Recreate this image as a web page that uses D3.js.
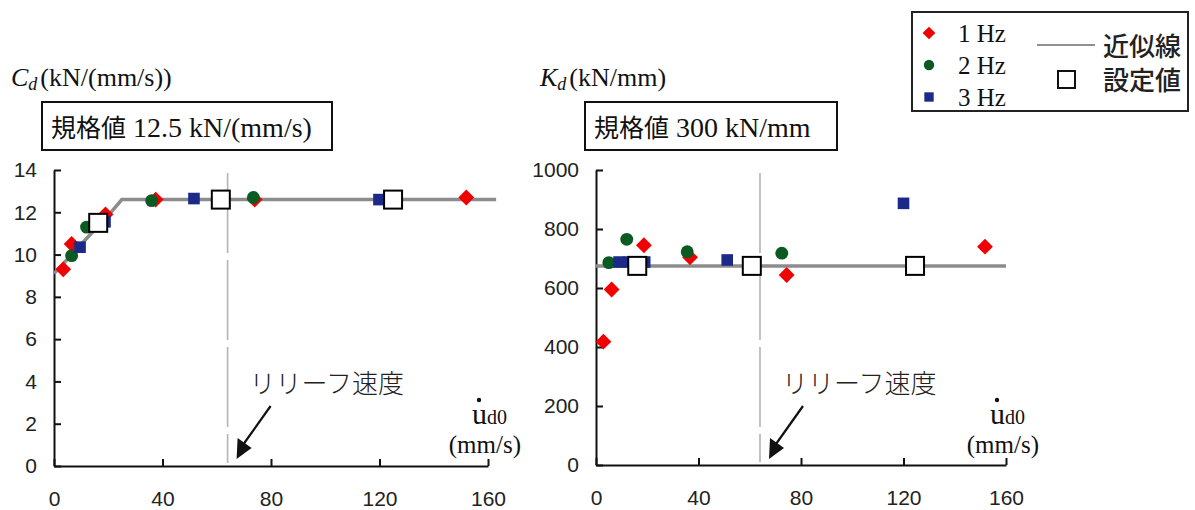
<!DOCTYPE html>
<html>
<head>
<meta charset="utf-8">
<script src="https://cdn.jsdelivr.net/npm/d3@7"></script>
<style>
  body { margin: 0; background: #fff; }
  svg { display: block; }
  .tick text { font-family: "Liberation Sans", Arial, sans-serif; font-size: 21px; fill: #222; }
  .serif { font-family: "Liberation Serif", "Times New Roman", serif; }
  .jp { font-family: "Noto Sans CJK JP", sans-serif; }
</style>
</head>
<body>
<svg id="chart" width="1195" height="510"></svg>
<script>
// ---- data ----
const xTicks = [0, 40, 80, 120, 160];
const reliefSpeed = 64;

// damping coefficient Cd (kN/(mm/s))
const cd1Hz = [[3.4, 9.3], [6.5, 10.5], [19, 11.9], [37.5, 12.6], [74, 12.6], [152, 12.7]];
const cd2Hz = [[6.5, 9.95], [12, 11.3], [36, 12.55], [73.5, 12.7]];
const cd3Hz = [[9.6, 10.35], [18.8, 11.55], [51.6, 12.65], [119.8, 12.6]];
const cdSetting = [[16.3, 11.5], [61.5, 12.6], [125, 12.6]];
const cdFit = [[0, 9.1], [21, 12.0], [25, 12.6], [163, 12.6]];
const cdTicks = [0, 2, 4, 6, 8, 10, 12, 14];

// stiffness Kd (kN/mm)
const kd1Hz = [[2.9, 418], [6.1, 595], [18.7, 745], [36.7, 704], [74.4, 644], [151.8, 740]];
const kd2Hz = [[5, 686], [12, 765], [35.6, 723], [72.5, 718]];
const kd3Hz = [[9, 688], [13, 688], [19, 688], [51.2, 695], [120, 887]];
const kdSetting = [[16.1, 675], [60.8, 675], [124.5, 675]];
const kdFit = [[0, 675], [160, 675]];
const kdTicks = [0, 200, 400, 600, 800, 1000];

const svg = d3.select('#chart');

const seriesStyle = [
  { name: '1 Hz', color: '#f00000', shape: 'diamond' },
  { name: '2 Hz', color: '#0b5a22', shape: 'circle' },
  { name: '3 Hz', color: '#1b2a88', shape: 'square' }
];

function markerPath(shape, k) {
  if (shape === 'diamond') return d3.symbol(d3.symbolSquare, 125 * k)();
  if (shape === 'circle') return d3.symbol(d3.symbolCircle, 130 * k)();
  return d3.symbol(d3.symbolSquare, 135 * k)();
}
function markerRot(shape) { return shape === 'diamond' ? ' rotate(45)' : ''; }

// ------
// draw one panel
function drawPanel(p) {
  let x = d3.scaleLinear().domain([0, 160]).range(p.xRange);
  let y = d3.scaleLinear().domain([0, p.yMax]).range(p.yRange);
  let g = svg.append('g');

  // relief speed line
  g.append('line')
    .attr('x1', x(reliefSpeed)).attr('x2', x(reliefSpeed))
    .attr('y1', y(p.yMax) + 3).attr('y2', y(0) - 3)
    .attr('stroke', '#b4b4b4').attr('stroke-width', 1.6)
    .attr('stroke-dasharray', '80,7');

  // axes
  let yAxis = d3.axisLeft(y).tickValues(p.yTicks).tickFormat(d3.format('d'))
    .tickSizeInner(-7).tickSizeOuter(0).tickPadding(17);
  g.append('g').attr('transform', 'translate(' + p.xRange[0] + ',0)').call(yAxis)
    .call(a => a.selectAll('line, path').attr('stroke', '#111').attr('stroke-width', 2));
  let xAxis = d3.axisBottom(x).tickValues(xTicks).tickSizeInner(-7).tickSizeOuter(0).tickPadding(25);
  g.append('g').attr('transform', 'translate(0,' + p.yRange[0] + ')').call(xAxis)
    .call(a => a.selectAll('line, path').attr('stroke', '#111').attr('stroke-width', 2));

  // fit line
  g.append('path')
    .datum(p.fit)
    .attr('d', d3.line().x(d => x(d[0])).y(d => y(d[1])))
    .attr('fill', 'none').attr('stroke', '#8c8c8c').attr('stroke-width', 3.5);

  // measured points
  p.series.forEach(function(data, i) {
    let s = seriesStyle[i];
    g.append('g').selectAll('path')
      .data(data).enter().append('path')
      .attr('d', markerPath(s.shape, 1))
      .attr('transform', d => 'translate(' + x(d[0]) + ',' + y(d[1]) + ')' + markerRot(s.shape))
      .attr('fill', s.color);
  });

  // setting values
  g.append('g').selectAll('rect')
    .data(p.setting).enter().append('rect')
    .attr('x', d => x(d[0]) - 9).attr('y', d => y(d[1]) - 9)
    .attr('width', 18).attr('height', 18)
    .attr('fill', '#fff').attr('stroke', '#000').attr('stroke-width', 2);

  // y label
  let yl = g.append('text').attr('class', 'serif').attr('x', p.labelX).attr('y', 86)
    .attr('font-size', 26).attr('fill', '#111');
  yl.append('tspan').attr('font-style', 'italic').text(p.sym);
  yl.append('tspan').attr('font-style', 'italic').attr('font-size', 18).attr('dy', 4).text('d');
  yl.append('tspan').attr('dy', -4).attr('dx', 3).text(p.unit);

  // spec box
  g.append('rect').attr('x', p.box[0]).attr('y', 102).attr('width', p.box[1]).attr('height', 48)
    .attr('fill', '#fff').attr('stroke', '#111').attr('stroke-width', 2);
  let bt = g.append('text').attr('x', p.box[0] + 9).attr('y', 137).attr('fill', '#111');
  bt.append('tspan').attr('class', 'jp').attr('font-size', 25).text('規格値');
  bt.append('tspan').attr('class', 'serif').attr('font-size', 28).text(' ' + p.spec);

  // relief speed annotation
  let ax = x(reliefSpeed);
  g.append('text').attr('class', 'jp').attr('x', ax + 22).attr('y', 393)
    .attr('font-size', 26).attr('font-weight', 300).attr('fill', '#222').text('リリーフ速度');
  g.append('line').attr('x1', ax + 43).attr('y1', 406).attr('x2', ax + 16).attr('y2', 444)
    .attr('stroke', '#111').attr('stroke-width', 2.2);
  g.append('path')
    .attr('d', 'M' + (ax + 9) + ',' + 459 + 'L' + (ax + 10) + ',' + 438 + 'L' + (ax + 24) + ',' + 448 + 'Z')
    .attr('fill', '#111');

  // x label
  let ux = x(160) - 16;
  g.append('circle').attr('cx', ux + 7).attr('cy', 400).attr('r', 2.2).attr('fill', '#111');
  let xl = g.append('text').attr('class', 'serif').attr('x', ux).attr('y', 424).attr('font-size', 30).attr('fill', '#111');
  xl.append('tspan').text('u');
  xl.append('tspan').attr('font-size', 20).text('d0');
  g.append('text').attr('class', 'serif').attr('x', x(160) + 33).attr('y', 453).attr('text-anchor', 'end')
    .attr('font-size', 25).attr('fill', '#111').text('(mm/s)');
}

drawPanel({
  xRange: [54, 488], yRange: [466, 170], yMax: 14, yTicks: cdTicks,
  series: [cd1Hz, cd2Hz, cd3Hz], setting: cdSetting, fit: cdFit,
  sym: 'C', unit: '(kN/(mm/s))', labelX: 11, box: [42, 290], spec: '12.5 kN/(mm/s)'
});
drawPanel({
  xRange: [596, 1006], yRange: [465, 170], yMax: 1000, yTicks: kdTicks,
  series: [kd1Hz, kd2Hz, kd3Hz], setting: kdSetting, fit: kdFit,
  sym: 'K', unit: '(kN/mm)', labelX: 540, box: [585, 252], spec: '300 kN/mm'
});

// ------
// legend
let lg = svg.append('g');
lg.append('rect').attr('x', 912).attr('y', 12).attr('width', 276).attr('height', 99)
  .attr('fill', '#fff').attr('stroke', '#222').attr('stroke-width', 2);
seriesStyle.forEach(function(s, i) {
  let cy = 33 + i * 32;
  lg.append('path').attr('d', markerPath(s.shape, 0.65))
    .attr('transform', 'translate(929,' + cy + ')' + markerRot(s.shape))
    .attr('fill', s.color);
  lg.append('text').attr('class', 'serif').attr('x', 958).attr('y', cy + 9)
    .attr('font-size', 25).attr('fill', '#111').text(s.name);
});
lg.append('line').attr('x1', 1037).attr('x2', 1095).attr('y1', 45).attr('y2', 45)
  .attr('stroke', '#222').attr('stroke-width', 1.2);
lg.append('text').attr('class', 'jp').attr('x', 1103).attr('y', 56).attr('font-size', 26)
  .attr('font-weight', 500).attr('fill', '#222').text('近似線');
lg.append('rect').attr('x', 1058).attr('y', 71).attr('width', 17).attr('height', 17)
  .attr('fill', '#fff').attr('stroke', '#111').attr('stroke-width', 2);
lg.append('text').attr('class', 'jp').attr('x', 1103).attr('y', 90).attr('font-size', 26)
  .attr('font-weight', 500).attr('fill', '#222').text('設定値');
</script>
</body>
</html>
